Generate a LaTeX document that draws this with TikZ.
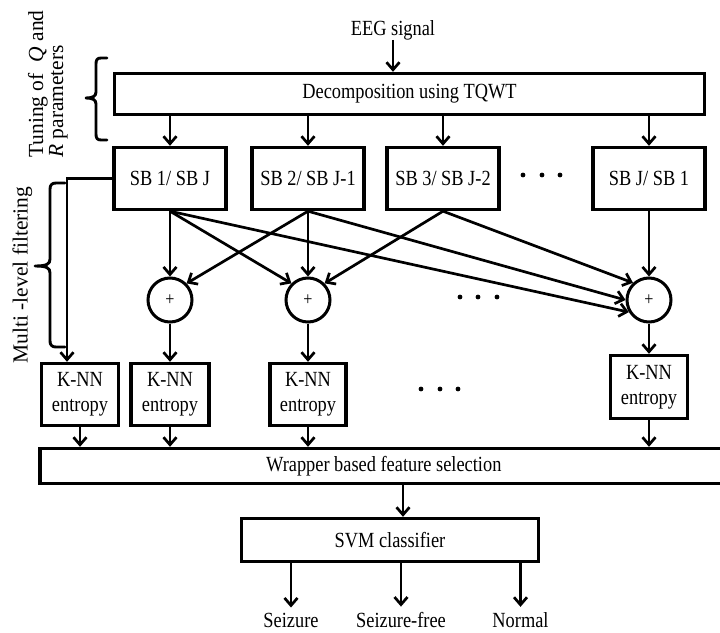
\documentclass[tikz,border=0pt]{standalone}
\usepackage{fontspec}
\setmainfont{Liberation Serif}[FakeStretch=0.85]
\newfontfamily\rotfont{Liberation Serif}
\usetikzlibrary{arrows.meta,calc}
\begin{document}
\begin{tikzpicture}[x=1pt,y=-1pt,
  box/.style={draw, line width=3.4pt, inner sep=0pt, font=\fontsize{21.6}{25}\selectfont, align=center},
  arr/.style={line width=2.7pt, -{Straight Barb[length=7.5pt,width=13pt]}},
  sumnode/.style={draw, circle, line width=3pt, minimum size=44pt, inner sep=0pt, font=\fontsize{19}{19}\selectfont},
  lbl/.style={font=\fontsize{21.6}{25}\selectfont, inner sep=0pt},
  rlbl/.style={font=\rotfont\fontsize{21.5}{22}\selectfont, inner sep=0pt, rotate=90},
  bracepath/.style={line width=2.9pt, line cap=round, line join=round}
]
\useasboundingbox (0,0) rectangle (720,632);

% top
\node[lbl, anchor=base] (eeg) at (393,35) {EEG signal};
\node[box, minimum width=590, minimum height=41] (dec) at (409.5,94) {Decomposition using TQWT};

% sub-band boxes
\node[box, minimum width=112, minimum height=62] (sb1) at (170,178.5) {SB 1/ SB J};
\node[box, minimum width=112, minimum height=62] (sb2) at (308,178.5) {SB 2/ SB J-1};
\node[box, minimum width=112, minimum height=62] (sb3) at (443,178.5) {SB 3/ SB J-2};
\node[box, minimum width=112, minimum height=62] (sbj) at (649,178.5) {SB J/ SB 1};

% summing nodes
\node[sumnode] (c1) at (170,300) {+};
\node[sumnode] (c2) at (308,300) {+};
\node[sumnode] (c3) at (649,300) {+};

% K-NN boxes
\node[box, minimum width=77, minimum height=62] (k1) at (80,394.5) {K-NN\\entropy};
\node[box, minimum width=78, minimum height=62] (k2) at (170,394.5) {K-NN\\entropy};
\node[box, minimum width=76, minimum height=62] (k3) at (308,394.5) {K-NN\\entropy};
\node[box, minimum width=77, minimum height=63] (k4) at (649,387) {K-NN\\entropy};

% wrapper and SVM
\node[box, minimum width=682, minimum height=35] (wr) at (380.8,466) {\hspace*{6pt}Wrapper based feature selection};
\node[box, minimum width=297, minimum height=43] (svm) at (390,540) {SVM classifier};

% outputs
\node[lbl, anchor=base] (o1) at (291,627) {Seizure};
\node[lbl, anchor=base] (o2) at (401,627) {Seizure-free};
\node[lbl, anchor=base] (o3) at (520.5,627) {Normal};

% rotated labels
\node[rlbl, anchor=base west] (tq1) at (43,158) {Tuning of \ \textit{Q} and};
\node[rlbl, anchor=base west] (tq2) at (63,158) {\textit{R} parameters};
\node[rlbl, anchor=base] (ml) at (27.5,275) {Multi -level filtering};

% braces
\draw[bracepath] (107,58) -- (101,58) .. controls (97,58) and (96,60) .. (96,64) -- (96,92)
  .. controls (96,96) and (93,98) .. (86,98) .. controls (93,98) and (96,100) .. (96,104)
  -- (96,134) .. controls (96,138) and (97,140) .. (101,140) -- (107,140);
\draw[bracepath] (65,183) -- (56,183) .. controls (52,183) and (50,185) .. (50,189) -- (50,259)
  .. controls (50,264) and (47,266) .. (35,266) .. controls (47,266) and (50,268) .. (50,273)
  -- (50,341) .. controls (50,345) and (52,347) .. (56,347) -- (65,347);

% connectors
\draw[arr] (eeg.south) -- (eeg.south |- dec.north);
\draw[arr] (sb1.north |- dec.south) -- (sb1.north);
\draw[arr] (sb2.north |- dec.south) -- (sb2.north);
\draw[arr] (sb3.north |- dec.south) -- (sb3.north);
\draw[arr] (sbj.north |- dec.south) -- (sbj.north);

\draw[arr] (sb1.west) -| ([xshift=-13pt]k1.north);

\draw[arr] (sb1.south) -- (c1.north);
\draw[arr] (sb1.south) -- (c2.135);
\draw[arr] (sb1.south) -- (c3.211);
\draw[arr] (sb2.south) -- (c1.45);
\draw[arr] (sb2.south) -- (c2.north);
\draw[arr] (sb2.south) -- (c3.180);
\draw[arr] (sb3.south) -- (c2.45);
\draw[arr] (sb3.south) -- (c3.133);
\draw[arr] (sbj.south) -- (c3.north);

\draw[arr] (c1.south) -- (k2.north);
\draw[arr] (c2.south) -- (k3.north);
\draw[arr] (c3.south) -- (k4.north);

\draw[arr] (k1.south) -- (k1.south |- wr.north);
\draw[arr] (k2.south) -- (k2.south |- wr.north);
\draw[arr] (k3.south) -- (k3.south |- wr.north);
\draw[arr] (k4.south) -- (k4.south |- wr.north);

\coordinate (ws) at (403,500);
\draw[arr] (wr.south -| ws) -- (svm.north -| ws);

\draw[arr] (svm.south -| o1) -- ([yshift=5pt]o1.north);
\draw[arr] (svm.south -| o2) -- ([yshift=5pt]o2.north);
\draw[arr] (svm.south -| o3) -- ([yshift=5pt]o3.north);

% ellipsis dots
\foreach \x in {523,542,560} \fill (\x,175) circle[radius=2.4pt];
\foreach \x in {460,478,497} \fill (\x,297) circle[radius=2.4pt];
\foreach \x in {421,440,458} \fill (\x,389) circle[radius=2.4pt];
\end{tikzpicture}
\end{document}
